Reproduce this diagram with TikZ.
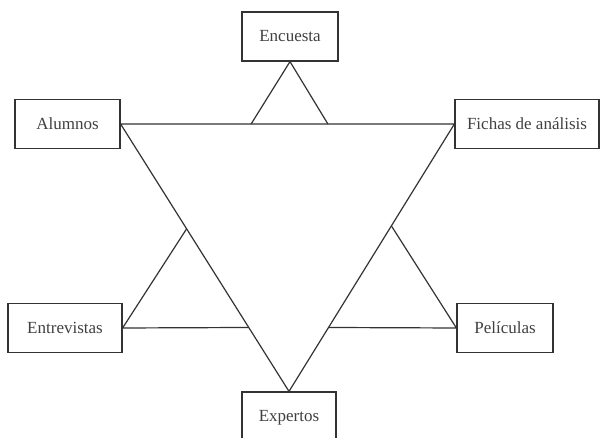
\documentclass[tikz,border=0pt]{standalone}
\usepackage{fontspec}
\setmainfont{Liberation Serif}
\usetikzlibrary{calc}

\begin{document}
\begin{tikzpicture}[x=1pt,y=1pt,line width=1.2pt,color=black!80,
  caja/.style={draw,rectangle,inner sep=0pt,minimum height=49pt,text=black!75,
    font=\fontsize{17}{20}\selectfont}]
  \useasboundingbox (0,0) rectangle (600,438);
  \node[caja,minimum width=96pt] (encuesta) at (290,401.5) {Encuesta};
  \node[caja,minimum width=105pt] (alumnos) at (67.5,314) {Alumnos};
  \node[caja,minimum width=144pt] (fichas) at (527,314) {Fichas de análisis};
  \node[caja,minimum width=114pt] (entrevistas) at (65,110) {Entrevistas};
  \node[caja,minimum width=96pt] (peliculas) at (505,110) {Películas};
  \node[caja,minimum width=94pt,minimum height=52pt] (expertos) at (289,20) {Expertos};
  \draw (alumnos.east) -- (fichas.west) -- (expertos.north) -- cycle;
  \coordinate (enc-l) at ($(alumnos.east)!0.391!(fichas.west)$);
  \coordinate (enc-r) at ($(alumnos.east)!0.621!(fichas.west)$);
  \draw (enc-l) -- (encuesta.south) -- (enc-r);
  \coordinate (ent-top) at ($(alumnos.east)!0.392!(expertos.north)$);
  \coordinate (ent-base) at ($(alumnos.east)!0.761!(expertos.north)$);
  \draw (ent-top) -- (entrevistas.east) -- (ent-base);
  \coordinate (pel-top) at ($(fichas.west)!0.381!(expertos.north)$);
  \coordinate (pel-base) at ($(fichas.west)!0.761!(expertos.north)$);
  \draw (pel-top) -- (peliculas.west) -- (pel-base);
\end{tikzpicture}
\end{document}
